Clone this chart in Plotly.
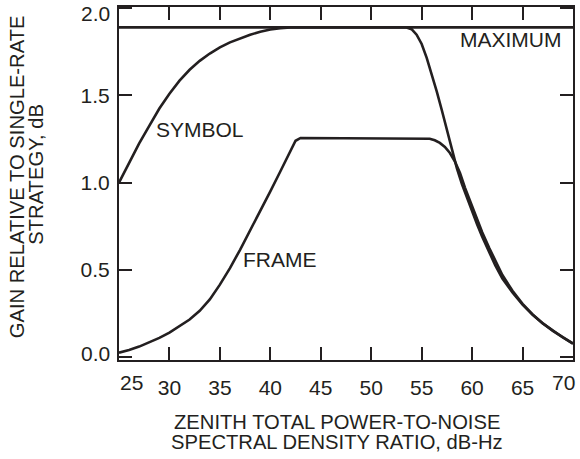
import plotly.graph_objects as go

# ---- data ----
symbol_x = [25, 26, 27, 28, 29, 30, 31, 32, 33, 34, 35, 36, 37, 38, 39, 40, 41, 42,
            53.5, 54.0, 54.5, 55.0, 55.5, 56.0, 56.5, 57.0, 57.5, 58.0, 58.5, 59.0, 59.7,
            60.5, 61.0, 61.7, 62.3, 63, 64, 65, 66, 67, 68, 69, 70]
symbol_y = [1.00, 1.115, 1.225, 1.325, 1.425, 1.51, 1.585, 1.647, 1.698, 1.74, 1.775, 1.804,
            1.828, 1.848, 1.865, 1.878, 1.886, 1.89,
            1.89, 1.88, 1.848, 1.795, 1.715, 1.622, 1.522, 1.415, 1.30, 1.185, 1.08, 0.99, 0.88,
            0.76, 0.69, 0.60, 0.525, 0.45, 0.37, 0.30, 0.242, 0.193, 0.15, 0.112, 0.077]

frame_x = [25, 26, 27, 28, 29, 30, 31, 32, 33, 34, 35, 36, 37, 38, 39, 40, 41, 42, 42.5, 43.0,
           55.3, 55.8, 56.3, 56.8, 57.3, 57.8, 58.3, 58.8, 59.3, 59.7, 60.5, 61.0, 61.7, 62.3,
           63, 64, 65, 66, 67, 68, 69, 70]
frame_y = [0.025, 0.04, 0.06, 0.085, 0.11, 0.14, 0.175, 0.215, 0.265, 0.33, 0.415, 0.51,
           0.615, 0.725, 0.835, 0.95, 1.065, 1.185, 1.24, 1.256,
           1.256, 1.252, 1.243, 1.228, 1.205, 1.17, 1.12, 1.055, 0.97, 0.91, 0.785, 0.715,
           0.625, 0.55, 0.47, 0.38, 0.305, 0.244, 0.194, 0.15, 0.112, 0.077]

maximum_x = [25.0, 70.0]
maximum_y = [1.89, 1.89]

x_tick_vals = [25, 30, 35, 40, 45, 50, 55, 60, 65, 70]
x_tick_text = ["25", "30", "35", "40", "45", "50", "55", "60", "65", "70"]
y_tick_vals = [0.0, 0.5, 1.0, 1.5, 2.0]
y_tick_text = ["0.0", "0.5", "1.0", "1.5", "2.0"]

curve_labels = ["SYMBOL", "FRAME", "MAXIMUM"]
curve_label_x = [33.07, 41.0, 63.82]
curve_label_y = [1.305, 0.56, 1.822]

x_title_lines = ["ZENITH TOTAL POWER-TO-NOISE", "SPECTRAL DENSITY RATIO, dB-Hz"]
y_title_lines = ["GAIN RELATIVE TO SINGLE-RATE", "STRATEGY, dB"]

# ---- styling ----
INK = "#231f20"
FONT = "Liberation Sans, Arial, sans-serif"
FS = 21
FS_TITLE = 20.2
W, H = 580, 459
L, R, T, B = 119, 6, 5, 99
PW, PH = W - L - R, H - T - B


def px_to_paper(px, py):
    return (px - L) / PW, (H - B - py) / PH


fig = go.Figure()
for xs, ys in [(maximum_x, maximum_y), (symbol_x, symbol_y), (frame_x, frame_y)]:
    fig.add_trace(go.Scatter(x=xs, y=ys, mode="lines",
                             line=dict(color=INK, width=2.6),
                             hoverinfo="skip", showlegend=False))

annotations = []
for txt, lx, ly in zip(curve_labels, curve_label_x, curve_label_y):
    annotations.append(dict(x=lx, y=ly, xref="x", yref="y", text=txt, showarrow=False,
                            xanchor="center", yanchor="middle",
                            font=dict(family=FONT, size=FS, color=INK)))

# edge tick labels, drawn inset as in the reference
ex0, ey = px_to_paper(132, 383)
ex1, _ = px_to_paper(564, 383)
annotations.append(dict(x=ex0, y=ey, xref="paper", yref="paper", text=x_tick_text[0],
                        showarrow=False, xanchor="center", yanchor="middle",
                        font=dict(family=FONT, size=FS, color=INK)))
annotations.append(dict(x=ex1, y=ey, xref="paper", yref="paper", text=x_tick_text[-1],
                        showarrow=False, xanchor="center", yanchor="middle",
                        font=dict(family=FONT, size=FS, color=INK)))
yx, yy0 = px_to_paper(112, 353)
_, yy1 = px_to_paper(112, 12)
annotations.append(dict(x=yx, y=yy0, xref="paper", yref="paper", text=y_tick_text[0],
                        showarrow=False, xanchor="right", yanchor="middle",
                        font=dict(family=FONT, size=FS, color=INK)))
annotations.append(dict(x=yx, y=yy1, xref="paper", yref="paper", text=y_tick_text[-1],
                        showarrow=False, xanchor="right", yanchor="middle",
                        font=dict(family=FONT, size=FS, color=INK)))

# axis titles (two lines each, tight spacing)
for txt, py in zip(x_title_lines, [422, 442]):
    ax, ay = px_to_paper(337, py)
    annotations.append(dict(x=ax, y=ay, xref="paper", yref="paper", text=txt,
                            showarrow=False, xanchor="center", yanchor="middle",
                            font=dict(family=FONT, size=FS_TITLE, color=INK)))
for txt, pxx, pyy in zip(y_title_lines, [16.5, 35.5], [175.5, 173]):
    ax, ay = px_to_paper(pxx, pyy)
    annotations.append(dict(x=ax, y=ay, xref="paper", yref="paper", text=txt,
                            showarrow=False, xanchor="center", yanchor="middle",
                            textangle=-90,
                            font=dict(family=FONT, size=FS_TITLE, color=INK)))

axis_common = dict(showline=True, linewidth=2, linecolor=INK, mirror="ticks",
                   ticks="inside", ticklen=13, tickwidth=1.5, tickcolor=INK,
                   showgrid=False, zeroline=False,
                   tickfont=dict(family=FONT, size=FS, color=INK))

fig.update_layout(
    width=W, height=H,
    margin=dict(l=L, r=R, t=T, b=B),
    paper_bgcolor="white", plot_bgcolor="white",
    xaxis=dict(range=[25, 70], tickmode="array", tickvals=x_tick_vals,
               ticktext=[""] + x_tick_text[1:-1] + [""], ticklabelstandoff=8,
               **axis_common),
    yaxis=dict(range=[-0.017, 2.007], tickmode="array", tickvals=y_tick_vals,
               ticktext=[""] + y_tick_text[1:-1] + [""], ticklabelstandoff=3,
               **axis_common),
    annotations=annotations,
    font=dict(family=FONT, color=INK),
)

fig.write_html("out.html", config={"displayModeBar": False},
               post_script="document.body.style.margin='0';")
